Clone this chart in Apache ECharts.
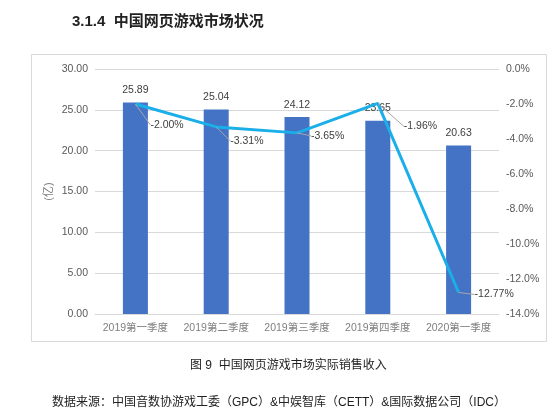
<!DOCTYPE html>
<html><head><meta charset="utf-8">
<script src="https://cdn.jsdelivr.net/npm/echarts@6/dist/echarts.min.js"></script>
<style>html,body{margin:0;padding:0;background:#fff}#c{width:550px;height:414px}</style>
</head><body><div id="c"></div>
<script>
var categories = ['2019第一季度','2019第二季度','2019第三季度','2019第四季度','2020第一季度'];
var revenue = [25.89, 25.04, 24.12, 23.65, 20.63];
var growth = [-2.00, -3.31, -3.65, -1.96, -12.77];
var growthLabelOffsets = [[10,21],[9,14],[9,3],[21,23],[11,2]];

var chart = echarts.init(document.getElementById('c'), null, {renderer:'canvas'});
var font = '"Liberation Sans", "Noto Sans CJK SC", sans-serif';
chart.setOption({
  backgroundColor:'#fff',
  animation:false,
  textStyle:{fontFamily:font},
  title:[
    {text:'3.1.4  中国网页游戏市场状况', left:67, top:9, textStyle:{fontSize:15, fontWeight:'bold', color:'#222', fontFamily:font}},
    {text:'图 9  中国网页游戏市场实际销售收入', left:185, top:355, textStyle:{fontSize:12, fontWeight:'normal', color:'#222', fontFamily:font}},
    {text:'数据来源：中国音数协游戏工委（GPC）&中娱智库（CETT）&国际数据公司（IDC）', left:47, top:392, textStyle:{fontSize:12, fontWeight:'normal', color:'#222', fontFamily:font}}
  ],
  graphic:[{type:'rect', shape:{x:31.5,y:54.5,width:515,height:287}, style:{fill:'none', stroke:'#d9d9d9', lineWidth:1}, z:-1}],
  grid:{left:95, right:51, top:69, bottom:100},
  xAxis:{type:'category', data:categories,
    axisLine:{show:true, lineStyle:{color:'#d9d9d9'}}, axisTick:{show:false},
    axisLabel:{color:'#7f7f7f', fontSize:10.5, margin:9, interval:0}},
  yAxis:[
    {type:'value', min:0, max:30, interval:5, name:'(亿)', nameLocation:'middle', nameRotate:90, nameGap:41, nameMoveOverlap:false,
     nameTextStyle:{color:'#7f7f7f', fontSize:11},
     axisLabel:{color:'#595959', fontSize:10.5, margin:7, formatter:function(v){return v.toFixed(2);}},
     splitLine:{lineStyle:{color:'#d9d9d9'}}, axisLine:{show:false}, axisTick:{show:false}},
    {type:'value', min:-14, max:0, interval:2,
     axisLabel:{color:'#595959', fontSize:10.5, margin:7, formatter:function(v){return v.toFixed(1)+'%';}},
     splitLine:{show:false}, axisLine:{show:false}, axisTick:{show:false}}
  ],
  series:[
    {type:'bar', data:revenue, barWidth:25, itemStyle:{color:'#4472C4'},
     label:{show:true, position:'top', distance:7, color:'#404040', fontSize:10.5, formatter:function(p){return p.value.toFixed(2);}}},
    {type:'line', yAxisIndex:1, data:growth, smooth:false, symbol:'circle', symbolSize:0.01, showSymbol:true,
     lineStyle:{color:'#1AAFE8', width:3}, itemStyle:{color:'#1AAFE8'},
     label:{show:true, position:'right', distance:5, color:'#404040', fontSize:10.5, opacity:1, formatter:function(p){return p.value.toFixed(2)+'%';}},
     labelLine:{show:true, length2:0, lineStyle:{color:'#a6a6a6', width:1}},
     labelLayout:function(p){var o=growthLabelOffsets[p.dataIndex]; return {dx:o[0], dy:o[1]};}
    }
  ]
});
</script></body></html>
